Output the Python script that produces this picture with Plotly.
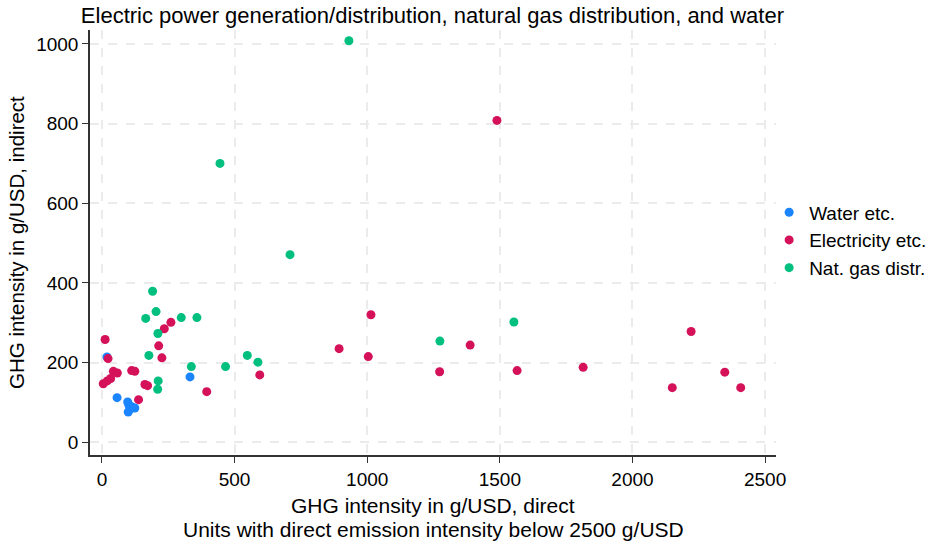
import plotly.graph_objects as go

# Water etc.
water_x = [19, 57, 97, 102, 112, 124, 99, 106, 332]
water_y = [214, 112, 101, 93, 89, 86, 76, 83, 164]

# Electricity etc.
elec_x = [12, 23, 5, 20, 33, 43, 58, 112, 124, 162, 172, 138, 214, 226, 235, 260,
          395, 595, 894, 1004, 1014, 1273, 1388, 1489, 1565, 1814, 2150, 2221, 2348, 2408]
elec_y = [258, 210, 147, 154, 160, 178, 174, 180, 178, 145, 142, 107, 242, 212, 285, 301,
          127, 169, 235, 215, 320, 177, 244, 808, 180, 188, 137, 278, 176, 137]

# Nat. gas distr.
gas_x = [191, 204, 165, 211, 299, 358, 177, 212, 210, 337, 466, 548, 588, 445, 709, 931, 1274, 1553]
gas_y = [379, 328, 311, 273, 313, 313, 218, 154, 133, 190, 190, 218, 201, 700, 471, 1008, 254, 302]

x_ticks = [0, 500, 1000, 1500, 2000, 2500]
y_ticks = [0, 200, 400, 600, 800, 1000]

FONT = "Liberation Sans, Arial, sans-serif"

fig = go.Figure()
for name, xs, ys, col in [("Water etc.", water_x, water_y, "#1a85ff"),
                          ("Electricity etc.", elec_x, elec_y, "#d41159"),
                          ("Nat. gas distr.", gas_x, gas_y, "#00bf7f")]:
    fig.add_trace(go.Scatter(x=xs, y=ys, mode="markers", name=name,
                             marker=dict(color=col, size=9, line=dict(width=0))))

axis_common = dict(showgrid=True, gridcolor="#ebebeb", griddash="dash", gridwidth=1.5,
                   zeroline=False, showline=True, linecolor="#333333", linewidth=1.5,
                   ticks="outside", ticklen=6, tickcolor="#333333", tickwidth=1.2,
                   automargin=False,
                   tickfont=dict(size=19, color="black", family=FONT))

fig.update_layout(
    width=938, height=545,
    paper_bgcolor="white", plot_bgcolor="white",
    margin=dict(l=90, r=162, t=30, b=90, autoexpand=False),
    font=dict(family=FONT, color="black"),
    title=dict(text="Electric power generation/distribution, natural gas distribution, and water",
               x=0.461, xanchor="center", y=0.9725, yanchor="middle",
               font=dict(size=22, color="black", family=FONT)),
    xaxis=dict(range=[-45, 2541], tickvals=x_ticks, ticktext=[str(v) for v in x_ticks],
               **axis_common),
    yaxis=dict(range=[-32, 1035], tickvals=y_ticks, ticktext=[str(v) for v in y_ticks],
               **axis_common),
    legend=dict(x=0.99, y=0.505, xanchor="left", yanchor="middle",
                font=dict(size=19, color="black", family=FONT),
                itemwidth=30, tracegroupgap=0, bgcolor="rgba(0,0,0,0)"),
)

fig.add_annotation(text="GHG intensity in g/USD, direct",
                   xref="paper", yref="paper", x=0.5, y=-0.118, yanchor="middle",
                   showarrow=False, font=dict(size=21, color="black", family=FONT))
fig.add_annotation(text="Units with direct emission intensity below 2500 g/USD",
                   xref="paper", yref="paper", x=0.5, y=-0.176, yanchor="middle",
                   showarrow=False, font=dict(size=21, color="black", family=FONT))
fig.add_annotation(text="GHG intensity in g/USD, indirect", textangle=-90,
                   xref="paper", yref="paper", x=-0.108, y=0.501, xanchor="center", yanchor="middle",
                   showarrow=False, font=dict(size=20.5, color="black", family=FONT))

# remove the default 8px page margin so the figure fills the window exactly
fig.write_html("out.html", config={"displayModeBar": False},
               post_script="document.body.style.margin='0px';")
